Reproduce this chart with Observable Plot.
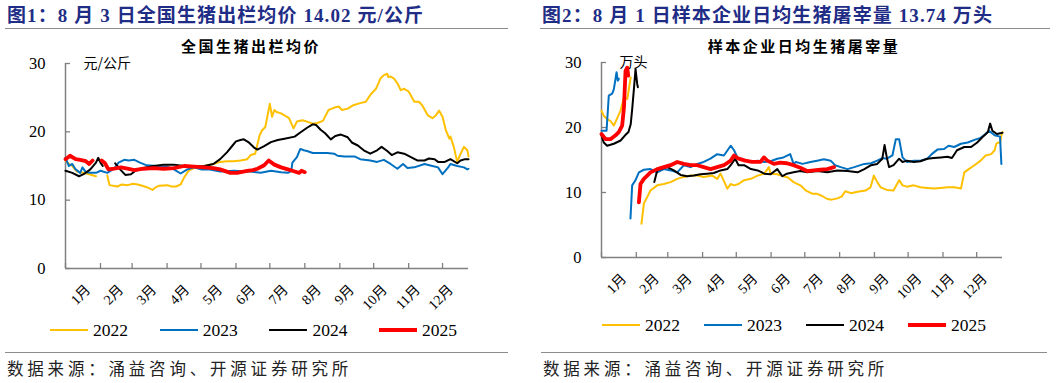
<!DOCTYPE html>
<html><head><meta charset="utf-8">
<script src="https://cdn.jsdelivr.net/npm/d3@7"></script>
<script src="https://cdn.jsdelivr.net/npm/@observablehq/plot@0.6"></script>
<style>
html,body{margin:0;padding:0;background:#fff;}
#root{position:relative;width:1057px;height:383px;overflow:hidden;background:#fff;}
.abs{position:absolute;white-space:nowrap;}
.title{font-family:"Liberation Serif","Noto Sans CJK SC",serif;font-weight:bold;font-size:19px;letter-spacing:1.1px;color:#1F2D86;line-height:22px;}
.sub{font-family:"Noto Sans CJK SC",sans-serif;font-weight:bold;font-size:15px;letter-spacing:2.5px;color:#000;line-height:18px;transform:translateX(-50%);}
.rule{height:0;border-top:1.5px solid #8c8c8c;}
.src{font-family:"Noto Sans CJK SC",sans-serif;font-size:16.5px;letter-spacing:3.8px;color:#222;line-height:20px;}
.leg{font-family:"Liberation Serif",serif;font-size:17.5px;color:#000;line-height:20px;display:flex;align-items:center;}
.leg span.sw{display:inline-block;width:38px;margin-right:5px;}
</style></head>
<body><div id="root"></div>
<script>
// ---------- shared ----------
const years = ["2022", "2023", "2024", "2025"];
const colors = ["#FFC000", "#0070C0", "#000000", "#FF0000"];
const lineWidths = [2, 2, 2, 3.8];
const monthStarts = [0, 31, 59, 90, 120, 151, 181, 212, 243, 273, 304, 334];
const monthLabels = ["1月","2月","3月","4月","5月","6月","7月","8月","9月","10月","11月","12月"];
const yTicks = [0, 10, 20, 30];

// ---------- Figure 1: national hog price (元/公斤), [day of year, value] ----------
const price2022 = [[0,15.8],[3,15.3],[6,15.0],[10,14.2],[16,14.0],[21,13.8],[27,13.5],[28,null],[37,13.6],[39,12.2],[46,12.0],[50,12.3],[55,12.2],[60,12.4],[64,12.3],[68,12.1],[72,11.9],[77,11.5],[80,11.9],[83,12.1],[90,12.2],[94,12.0],[98,12.0],[102,12.3],[105,13.3],[109,14.3],[115,14.8],[123,15.0],[131,15.3],[137,15.6],[143,15.7],[149,15.7],[155,15.8],[161,16.0],[164,16.6],[168,16.8],[172,19.5],[174,20.2],[177,20.7],[179,22.4],[181,24.1],[183,22.2],[185,23.2],[187,22.9],[191,22.7],[194,22.4],[198,22.0],[202,20.5],[205,21.5],[210,21.7],[214,21.5],[219,21.2],[223,21.3],[228,21.6],[233,23.2],[236,23.4],[239,23.6],[242,23.7],[245,23.2],[250,23.4],[255,23.9],[261,24.2],[266,24.4],[270,25.4],[275,26.3],[279,27.8],[282,28.3],[285,28.5],[286,28.0],[288,28.1],[291,27.8],[294,27.1],[297,26.1],[300,26.3],[304,25.9],[309,24.4],[313,24.4],[316,23.9],[321,22.4],[325,22.0],[328,22.4],[331,23.1],[334,22.2],[337,20.2],[340,19.0],[341,19.3],[344,17.8],[347,15.6],[350,16.8],[353,17.8],[356,17.3],[357,16.4]];
const price2023 = [[0,16.2],[3,15.0],[6,15.3],[9,14.5],[13,14.0],[15,14.8],[18,14.1],[22,14.0],[27,14.0],[31,14.3],[37,14.0],[43,14.6],[47,15.5],[52,15.9],[56,15.8],[61,15.9],[66,15.5],[72,15.1],[81,15.0],[90,14.9],[96,14.5],[102,13.9],[108,14.5],[114,14.8],[120,14.5],[128,14.5],[137,14.2],[149,14.3],[161,14.2],[164,14.2],[173,14.0],[182,14.3],[191,14.1],[197,14.0],[200,14.3],[201,15.5],[205,16.3],[208,17.5],[211,17.3],[214,17.2],[219,16.9],[223,16.9],[232,16.9],[238,16.8],[241,16.5],[247,16.4],[256,16.4],[261,16.0],[270,15.8],[276,15.6],[282,15.9],[288,15.3],[294,14.6],[299,15.3],[303,14.7],[309,14.8],[318,15.3],[325,15.0],[330,14.8],[334,13.8],[339,14.8],[341,15.3],[347,15.0],[353,14.8],[356,14.5],[357,14.6]];
const price2024 = [[0,14.3],[6,14.0],[12,13.5],[16,13.8],[22,14.5],[27,15.5],[29,16.2],[31,15.5],[33,15.0],[34,null],[44,15.4],[49,14.4],[53,13.7],[58,13.8],[62,14.3],[69,14.7],[78,15.0],[87,15.2],[96,15.2],[105,15.0],[114,14.9],[123,15.0],[131,15.3],[137,16.0],[143,17.0],[148,18.0],[151,18.6],[155,18.8],[158,18.9],[162,18.5],[167,17.7],[170,17.4],[176,17.9],[182,18.5],[188,18.8],[194,19.0],[203,19.3],[208,19.9],[214,20.6],[219,21.1],[222,21.0],[226,20.3],[230,19.8],[235,18.9],[239,19.4],[244,19.6],[250,19.2],[254,18.4],[259,18.0],[265,17.2],[270,16.8],[276,17.3],[280,17.8],[285,17.2],[289,16.6],[294,17.0],[300,16.8],[306,16.3],[312,15.8],[318,15.8],[322,16.1],[327,16.0],[330,15.6],[336,15.6],[341,16.0],[347,15.4],[350,15.8],[354,16.0],[357,16.0]];
const price2025 = [[0,16.0],[4,16.5],[9,16.0],[13,15.9],[18,15.7],[21,15.3],[24,15.8],[25,null],[32,15.8],[35,15.4],[38,14.5],[43,14.6],[49,14.8],[55,14.6],[61,14.4],[69,14.6],[78,14.7],[87,14.6],[96,14.7],[105,15.0],[114,14.9],[123,14.8],[131,14.7],[137,14.5],[146,14.0],[152,14.0],[161,14.3],[166,14.4],[170,14.6],[176,15.1],[180,15.8],[185,15.2],[191,14.8],[197,14.5],[203,14.2],[207,14.0],[209,14.3],[212,14.1]];

// ---------- Figure 2: daily slaughter of sample firms (万头), [day of year, value] ----------
const slaughter2022 = [[0,22.6],[2,21.8],[5,21.3],[8,21.0],[11,20.3],[17,22.6],[20,24.6],[23,24.4],[26,27.7],[27,null],[35.6,5.2],[37.7,8.3],[40.7,9.3],[43.6,10.3],[49.6,11.1],[55.5,11.3],[61.5,11.6],[67.4,12.1],[73.3,12.4],[79.3,12.6],[85.2,12.6],[91,12.4],[98.6,12.6],[103,12.1],[106,12.9],[112,10.6],[115,11.3],[118,11.1],[122,11.3],[127,11.9],[133,12.1],[139,12.6],[145,12.9],[149,13.9],[150.5,12.9],[156.5,12.8],[162,12.5],[166,12.3],[171,11.6],[177,11.1],[182,10.3],[188,9.8],[192,9.8],[196,9.5],[201,9.0],[205,8.9],[210,9.1],[214,9.4],[217,10.2],[222,9.9],[228,10.1],[235,10.3],[239.5,10.8],[242.5,12.6],[245.5,11.6],[248.5,10.8],[254,10.4],[260,10.3],[265,11.9],[268,11.1],[272,10.9],[278,11.1],[284,10.8],[290,10.7],[296,10.6],[302,10.7],[308,10.8],[314,10.8],[320,10.6],[323,13.1],[327,13.6],[332,14.2],[337.5,14.9],[342,15.7],[347,15.9],[350,16.5],[351.5,17.5],[353,17.7],[354.8,17.6],[356,18.8],[357,19.3]];
const slaughter2023 = [[0,19.5],[4.5,19.5],[6.5,24.9],[9.5,25.2],[11,25.9],[13.4,28.5],[14.5,27.2],[15.4,27.5],[16,null],[25.8,6.0],[27.3,11.1],[30.3,11.9],[33.3,13.1],[37.7,13.5],[43.6,13.6],[49.6,13.1],[55.5,13.6],[61.5,13.4],[67.4,13.1],[73.3,14.2],[79.3,13.9],[85.2,14.4],[91,14.7],[97,15.2],[103,15.9],[109,15.7],[115,17.2],[118,16.5],[121,15.4],[127,15.0],[133,14.7],[139,14.9],[145,14.7],[150.5,14.8],[156.5,15.2],[162,15.4],[168,15.9],[171,14.4],[173,14.7],[179,14.4],[186,14.7],[192,14.9],[198,15.1],[204,14.9],[208,14.2],[213,13.9],[219,13.6],[225,13.9],[234,14.4],[240,14.5],[245.5,14.9],[250,15.3],[254,15.2],[259,15.7],[262,18.2],[265,18.2],[268,15.4],[272,14.7],[278,14.9],[284,14.9],[290,15.2],[294,15.9],[299,16.6],[305,16.7],[309,17.2],[314,17.0],[320,17.5],[326,17.7],[332,18.1],[337.5,18.4],[342,19.0],[345,19.5],[350,18.8],[354.8,18.6],[356,14.4]];
const slaughter2024 = [[0,18.8],[2,17.7],[5,17.2],[11,17.5],[17,18.0],[21,18.8],[24,19.3],[26,20.5],[27.3,22.8],[29,26.2],[30.3,29.0],[31.8,26.7],[32.4,26.2],[33,null],[47,11.6],[49.6,13.4],[52.5,13.6],[58.5,13.9],[64.4,13.4],[70.4,12.7],[76.3,12.5],[82.2,12.6],[88.2,12.8],[94,12.9],[100,13.0],[106,13.4],[112,13.6],[115,14.2],[119,15.2],[122,14.2],[127,14.2],[133,13.6],[139,13.4],[145,12.9],[150.5,12.8],[156.5,13.6],[161,12.5],[165,12.9],[171,13.1],[177,13.3],[183,13.1],[192,13.3],[201,13.1],[210,13.4],[219,13.3],[228,13.1],[234,13.6],[240,14.2],[245.5,14.4],[250,15.2],[252,17.3],[254,15.4],[256,13.9],[260,14.2],[265,15.2],[268,14.7],[272,14.9],[278,14.7],[284,14.8],[290,15.2],[296,15.3],[302,15.4],[308,15.5],[312,15.3],[316.5,16.5],[323,17.0],[329,17.0],[334.5,17.7],[339,18.5],[344,19.3],[346,20.6],[348,19.5],[352,19.0],[357,19.2]];
const slaughter2025 = [[0,19.0],[3.6,18.2],[8,18.2],[12.5,18.8],[15.4,19.3],[18.4,20.3],[20,23.1],[21.4,28.7],[22.9,29.2],[23.8,28.0],[24.5,null],[33.3,8.5],[34.7,11.3],[37.7,12.1],[40.7,12.6],[43.6,13.1],[49.6,13.6],[55.5,13.9],[61.5,14.2],[67.4,14.7],[73.3,14.4],[79.3,14.2],[85.2,14.2],[91,13.9],[97,13.6],[103,13.9],[109,14.2],[115,14.9],[118,15.7],[122,15.2],[128,14.9],[134,14.7],[141.6,14.7],[144.6,15.4],[147.6,14.9],[153.5,14.4],[159,14.6],[165,14.5],[171,14.2],[177,13.8],[183,13.3],[189,13.4],[195,13.5],[201,13.6],[207,13.9]];

const labelDays = monthLabels.map((_, i) => 20 + i * 29.2);
const fontStack = "'Liberation Serif','Noto Sans CJK SC',serif";

function panel({series, width, height, ml, mr, mt, mb, unit}) {
  const marks = [
    Plot.ruleY([0], {stroke: "#808080", strokeWidth: 1.5}),
    Plot.ruleX([0], {stroke: "#808080", strokeWidth: 1.5}),
    Plot.axisY({ticks: yTicks, tickSize: -5, tickPadding: 25, stroke: "#808080", strokeWidth: 1.3, fill: "#000", fontSize: 16.5, fontFamily: fontStack, label: null}),
    Plot.axisX({ticks: monthStarts, tickSize: -5, tickFormat: () => "", stroke: "#808080", strokeWidth: 1.3, label: null}),
    Plot.text(monthLabels, {x: (d, i) => labelDays[i], y: () => 0, dy: 19, rotate: -45, textAnchor: "end", fontSize: 14, fontFamily: fontStack, fill: "#000"}),
    Plot.text([unit], {x: () => 0, y: () => 30, dx: 18, textAnchor: "start", fontSize: 14, fontFamily: "'Noto Sans CJK SC',sans-serif", fill: "#000"}),
    ...series.map((s, i) => Plot.line(s, {x: d => d[0], y: d => d[1], stroke: colors[i], strokeWidth: lineWidths[i], strokeLinejoin: "round", strokeLinecap: "round"}))
  ];
  return Plot.plot({
    width, height, marginLeft: ml, marginRight: mr, marginTop: mt, marginBottom: mb,
    x: {domain: [0, 357]}, y: {domain: [0, 30]},
    style: {background: "transparent", overflow: "visible", fontFamily: fontStack},
    marks
  });
}

const root = document.getElementById("root");
function add(html) { root.insertAdjacentHTML("beforeend", html); }

const left = panel({series: [price2022, price2023, price2024, price2025], width: 530, height: 300, ml: 65, mr: 62, mt: 63, mb: 32, unit: "元/公斤"});
left.style.position = "absolute"; left.style.left = "0px"; left.style.top = "0px";
root.appendChild(left);

const right = panel({series: [slaughter2022, slaughter2023, slaughter2024, slaughter2025], width: 527, height: 300, ml: 71, mr: 55, mt: 62, mb: 43, unit: "万头"});
right.style.position = "absolute"; right.style.left = "530px"; right.style.top = "0px";
root.appendChild(right);

// titles, rules, subtitles
add(`<div class="abs title" style="left:7px;top:5px;">图1：8 月 3 日全国生猪出栏均价 14.02 元/公斤</div>`);
add(`<div class="abs title" style="left:542px;top:5px;">图2：8 月 1 日样本企业日均生猪屠宰量 13.74 万头</div>`);
add(`<div class="abs rule" style="left:5px;top:28px;width:503px;"></div>`);
add(`<div class="abs rule" style="left:540px;top:28px;width:510px;"></div>`);
add(`<div class="abs sub" style="left:251px;top:37px;">全国生猪出栏均价</div>`);
add(`<div class="abs sub" style="left:804px;top:37px;">样本企业日均生猪屠宰量</div>`);

// legends
function legend(x0, y, step) {
  years.forEach((yr, i) => {
    add(`<div class="abs leg" style="left:${x0 + i * step}px;top:${y - 10}px;"><span class="sw" style="border-top:${i === 3 ? 4 : 2.5}px solid ${colors[i]};"></span>${yr}</div>`);
  });
}
legend(50, 330, 109.7);
legend(602, 325, 102);

// bottom rules and sources
add(`<div class="abs rule" style="left:5px;top:352px;width:503px;"></div>`);
add(`<div class="abs rule" style="left:541px;top:352px;width:506px;"></div>`);
add(`<div class="abs src" style="left:7px;top:358px;">数据来源：涌益咨询、开源证券研究所</div>`);
add(`<div class="abs src" style="left:543px;top:358px;">数据来源：涌益咨询、开源证券研究所</div>`);
</script>
</body></html>
